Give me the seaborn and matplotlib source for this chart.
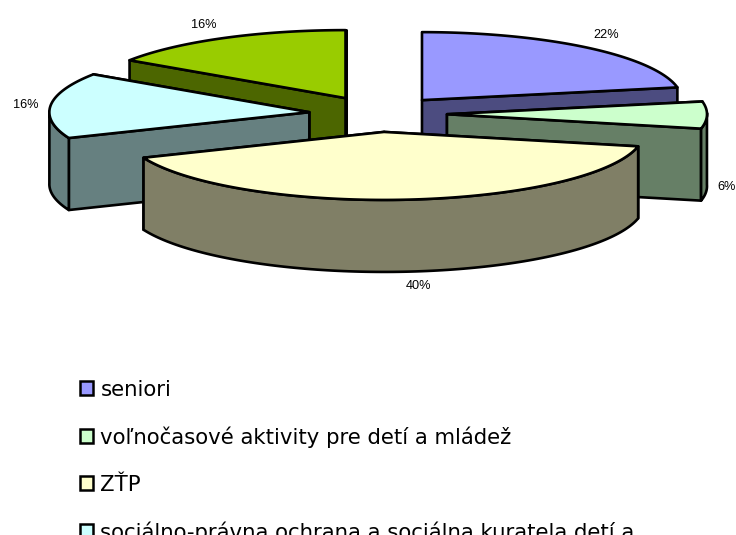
import numpy as np
import seaborn as sns
import matplotlib.pyplot as plt
from matplotlib.patches import Polygon, Patch

sns.set_theme(style="white")

# values (labels are rounded)
categories = ["seniori", "voľnočasové aktivity pre detí a mládež", "ZŤP",
              "sociálno-právna ochrana a sociálna kuratela detí a", ""]
values = [22.0, 6.4, 40.4, 15.6, 15.6]
top_colors = ["#9999FF", "#CCFFCC", "#FFFFCC", "#CCFFFF", "#99CC00"]
side_colors = ["#4C4C80", "#667F66", "#807F66", "#668080", "#4C6600"]

# layout, in pixels
cx, cy = 378, 114
rx, ry = 260, 68
ex, ey = 69, 18
depth = 72
label_pos = [(606, 35), (727, 187), (418, 286), (26, 105), (204, 25)]
draw_order = [4, 0, 3, 1, 2]

palette = sns.color_palette(top_colors)
shades = sns.color_palette(side_colors)

fig = plt.figure(figsize=(7.36, 5.35), dpi=100)
ax = fig.add_axes([0, 0, 1, 1])
ax.set_xlim(0, 736)
ax.set_ylim(535, 0)
ax.axis("off")

edges = np.cumsum([0] + values) / sum(values) * 2 * np.pi
lw = 1.9


def face(pts, color, z):
    ax.add_patch(Polygon(pts, closed=True, facecolor=color, edgecolor="black",
                         linewidth=lw, joinstyle="round", zorder=z))


for n, i in enumerate(draw_order):
    a0, a1 = edges[i], edges[i + 1]
    mid = (a0 + a1) / 2
    ox = cx + ex * np.sin(mid)
    oy = cy - ey * np.cos(mid)
    t = np.linspace(a0, a1, 120)
    arc = np.column_stack([ox + rx * np.sin(t), oy - ry * np.cos(t)])
    z = 2 + n

    # the two cut faces, back one first so the front one covers it
    for a in sorted([a0, a1], key=lambda v: -np.cos(v)):
        p = (ox + rx * np.sin(a), oy - ry * np.cos(a))
        face([(ox, oy), p, (p[0], p[1] + depth), (ox, oy + depth)], shades[i], z)

    # outer rim, only the part that faces the viewer
    front = arc[np.cos(t) < 0.02]
    if len(front) > 1:
        low = front + [0, depth]
        face(np.vstack([front, low[::-1]]), shades[i], z)

    face(np.vstack([[ox, oy], arc]), palette[i], z)

for v, (x, y) in zip(values, label_pos):
    ax.text(x, y, f"{v:.0f}%", ha="center", va="center", fontsize=9.2,
            family="Liberation Sans", color="black", zorder=20)

handles = [Patch(facecolor=palette[i], edgecolor="black", linewidth=1.8)
           for i in range(4)]
ax.legend(handles, categories[:4], loc="upper left", bbox_to_anchor=(80 / 736, 1 - 379.5 / 535),
          frameon=False, fontsize=15.3, handlelength=0.63, handleheight=0.63,
          handletextpad=0.33, labelspacing=1.26, borderpad=0, borderaxespad=0,
          labelcolor="black")

plt.savefig("out.png", dpi=100)
